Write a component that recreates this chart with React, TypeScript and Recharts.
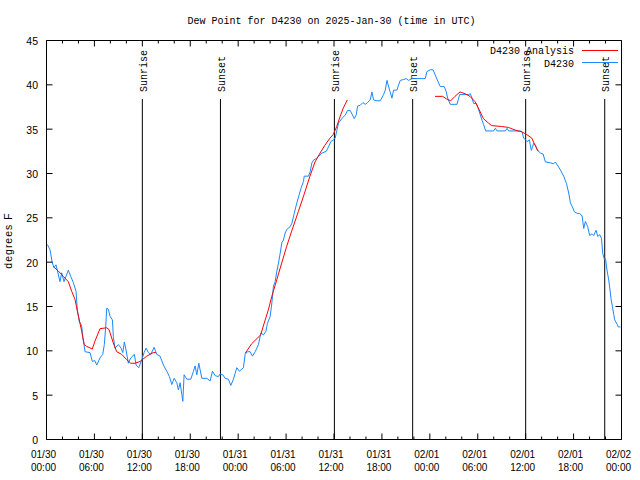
import React from 'react';
import { LineChart, Line, XAxis, YAxis, ReferenceLine, Customized } from 'recharts';

// Observed dew point (hours since 2025-01-30 00:00 UTC, degrees F)
const observed: [number, number][] = [
  [0.1, 22.0], [0.44, 21.4], [0.73, 19.9], [0.94, 19.4], [1.19, 19.7], [1.35, 19.1], [1.69, 17.8], [1.9, 18.8],
  [2.19, 17.8], [2.44, 18.4], [2.73, 19.1], [3.03, 18.4], [3.36, 17.7], [3.7, 16.7], [3.86, 14.6], [4.11, 13.3],
  [4.41, 12.8], [4.54, 11.5], [4.7, 10.7], [4.82, 9.9], [5.45, 9.8], [5.74, 8.8], [6.04, 8.9], [6.29, 8.4],
  [6.7, 9.2], [7.04, 9.6], [7.24, 10.7], [7.42, 12.8], [7.54, 14.8], [7.74, 14.7], [7.96, 13.9], [8.25, 13.5],
  [8.37, 11.6], [8.58, 10.3], [9.0, 10.7], [9.34, 10.3], [9.55, 9.8], [9.75, 11.0], [9.96, 10.1], [10.25, 8.6],
  [10.55, 9.2], [11.0, 9.6], [11.22, 8.4], [11.55, 8.1], [11.93, 9.0], [12.22, 9.8], [12.47, 10.3], [12.76, 9.8],
  [13.06, 9.6], [13.47, 10.4], [13.81, 9.6], [14.22, 9.4], [14.64, 8.4], [15.06, 7.7], [15.39, 7.1], [15.69, 6.2],
  [15.98, 6.9], [16.32, 6.4], [16.52, 5.6], [16.73, 6.4], [16.94, 5.1], [17.07, 4.3], [17.23, 7.3], [17.57, 6.8],
  [18.07, 6.8], [18.4, 7.7], [18.61, 8.3], [18.82, 7.3], [19.07, 8.6], [19.45, 6.9], [20.08, 6.9], [20.49, 6.6],
  [20.78, 7.7], [21.12, 7.2], [21.53, 7.1], [21.74, 7.4], [22.08, 7.3], [22.37, 6.9], [22.78, 6.8], [23.08, 6.1],
  [23.41, 6.8], [23.83, 8.1], [24.16, 7.7], [24.66, 8.1], [24.87, 9.6], [25.16, 9.9], [25.5, 9.9], [25.79, 9.4],
  [26.13, 9.9], [26.54, 10.7], [26.84, 12.0], [27.17, 11.8], [27.47, 12.2], [27.67, 13.1], [28.01, 13.9], [28.22, 15.4],
  [28.42, 17.3], [28.63, 17.8], [28.85, 19.0], [29.05, 19.9], [29.26, 21.0], [29.47, 22.2], [29.67, 22.5], [29.89, 23.3],
  [30.1, 23.7], [30.51, 24.0], [30.73, 24.4], [31.02, 25.5], [31.35, 26.7], [31.64, 27.6], [31.89, 28.4], [32.18, 29.1],
  [32.27, 29.7], [32.81, 29.7], [33.02, 30.2], [33.23, 31.2], [33.43, 31.5], [33.77, 31.7], [34.06, 31.9], [34.49, 32.3],
  [35.03, 32.5], [35.31, 33.0], [35.61, 33.6], [35.94, 33.8], [36.15, 34.0], [36.37, 34.9], [36.57, 35.7], [36.99, 36.2],
  [37.41, 36.6], [37.69, 37.1], [38.03, 37.1], [38.32, 36.6], [38.53, 36.2], [38.78, 36.6], [38.95, 37.6], [39.29, 37.7],
  [39.62, 38.0], [39.91, 37.8], [40.2, 38.0], [40.54, 38.3], [40.75, 39.2], [40.95, 38.3], [41.38, 38.2], [41.79, 38.2],
  [42.21, 38.9], [42.42, 39.4], [42.63, 40.5], [42.96, 39.4], [43.26, 38.5], [43.46, 39.4], [43.88, 39.4], [44.09, 40.0],
  [44.3, 40.5], [44.71, 40.6], [45.05, 40.7], [45.34, 40.5], [45.76, 40.7], [46.39, 40.7], [47.43, 40.7], [47.64, 41.5],
  [48.06, 41.7], [48.4, 41.7], [48.68, 41.1], [49.1, 40.2], [49.31, 39.8], [49.81, 39.8], [50.06, 39.2], [50.23, 38.5],
  [50.56, 37.8], [51.4, 37.8], [51.73, 38.9], [52.86, 38.9], [53.07, 39.0], [53.28, 38.5], [53.48, 37.9], [53.82, 37.9],
  [54.11, 37.2], [54.32, 36.6], [54.54, 36.0], [54.74, 35.5], [54.99, 34.8], [55.99, 34.8], [56.2, 35.1], [56.42, 34.8],
  [57.46, 34.8], [57.67, 35.1], [57.87, 34.8], [59.34, 34.8], [59.55, 34.7], [59.75, 34.0], [60.18, 33.6], [60.46, 33.8],
  [60.71, 32.6], [61.0, 33.4], [61.22, 33.2], [61.43, 32.7], [61.84, 32.3], [62.18, 32.2], [62.47, 31.3], [63.09, 31.2],
  [63.51, 31.1], [63.72, 31.3], [63.93, 31.0], [64.35, 30.4], [64.76, 29.7], [65.1, 28.9], [65.39, 27.8], [65.6, 26.7],
  [65.81, 26.3], [66.1, 25.7], [66.44, 25.5], [66.77, 25.5], [67.07, 25.2], [67.27, 23.8], [67.48, 24.6], [67.77, 24.0],
  [68.02, 23.0], [68.32, 23.2], [68.52, 23.0], [68.82, 23.6], [69.02, 22.9], [69.27, 23.1], [69.49, 22.7], [69.65, 21.0],
  [69.86, 20.3], [70.0, 20.4], [70.2, 19.0], [70.4, 18.0], [70.53, 17.1], [70.7, 15.8], [70.86, 15.0], [71.03, 14.1],
  [71.15, 13.5], [71.45, 13.0], [71.58, 12.7], [71.87, 12.7],
];

// Analysis segments (red)
const analysis1: [number, number][] = [
  [0.85, 19.5], [1.48, 19.0], [2.1, 18.4], [2.73, 17.8], [3.16, 16.7], [3.57, 15.8], [3.86, 14.5], [4.41, 12.2],
  [4.73, 10.7], [5.03, 10.5], [5.73, 10.2], [6.07, 11.1], [6.7, 12.5], [7.54, 12.6], [7.83, 12.4], [8.36, 10.9],
  [8.79, 9.9], [9.42, 9.6], [10.04, 9.0], [10.54, 8.6], [11.08, 8.6], [11.71, 8.8], [12.55, 9.4], [13.37, 9.8], [13.71, 9.8],
];
const analysis2: [number, number][] = [
  [24.86, 9.7], [25.69, 10.8], [26.82, 11.8], [27.15, 12.8], [27.77, 14.6], [28.2, 16.1], [28.83, 18.0], [29.45, 19.9],
  [30.08, 21.8], [30.7, 23.5], [31.53, 25.7], [32.24, 27.6], [32.99, 29.7], [33.62, 31.3], [34.25, 32.3], [34.87, 33.2],
  [35.5, 34.0], [35.91, 34.4], [36.34, 35.3], [36.75, 36.4], [37.17, 37.4], [37.67, 38.3],
];
const analysis3: [number, number][] = [
  [48.65, 38.7], [49.61, 38.7], [50.11, 38.4], [50.61, 38.2], [51.15, 38.7], [51.78, 39.2], [52.4, 39.0], [53.03, 38.7],
  [53.66, 38.1], [54.07, 37.4], [54.7, 36.2], [55.32, 35.7], [55.75, 35.4], [57.0, 35.3], [57.83, 35.2], [58.67, 34.9],
  [59.5, 34.7], [60.13, 34.4], [60.76, 34.0], [61.17, 33.2], [61.58, 32.5],
];

const sunEvents: { h: number; label: string }[] = [
  { h: 12.0, label: 'Sunrise' },
  { h: 21.78, label: 'Sunset' },
  { h: 36.05, label: 'Sunrise' },
  { h: 45.85, label: 'Sunset' },
  { h: 60.0, label: 'Sunrise' },
  { h: 69.9, label: 'Sunset' },
];
const sunLineTop = 38.4;

const xMin = 0;
const xMax = 72;
const yMin = 0;
const yMax = 45;
const xTicks = Array.from({ length: 37 }, (_, i) => i * 2);
const tickDates = ['01/30', '01/30', '01/30', '01/30', '01/31', '01/31', '01/31', '01/31', '02/01', '02/01', '02/01', '02/01', '02/02'];
const tickTimes = ['00:00', '06:00', '12:00', '18:00', '00:00', '06:00', '12:00', '18:00', '00:00', '06:00', '12:00', '18:00', '00:00'];
const yTicks = [0, 5, 10, 15, 20, 25, 30, 35, 40, 45];

const title = 'Dew Point for D4230 on 2025-Jan-30 (time in UTC)';
const yLabel = 'degrees F';
const legendNames = ['D4230 Analysis', 'D4230'];

// layout
const CHART_W = 640;
const CHART_H = 480;
const MARGIN = { top: 40.5, right: 18.5, bottom: 0, left: 0 };
const Y_AXIS_W = 46.5;
const X_AXIS_H = 40.5;
const PLOT_L = MARGIN.left + Y_AXIS_W;
const PLOT_T = MARGIN.top;
const PLOT_R = CHART_W - MARGIN.right;
const PLOT_B = CHART_H - MARGIN.bottom - X_AXIS_H;

const RED = '#ff0000';
const BLUE = '#1a88ff';
const MONO = '"Liberation Mono", "DejaVu Sans Mono", monospace';
const SANS = '"Liberation Sans", Arial, sans-serif';

const toRows = (arr: [number, number][]) => arr.map(([h, v]) => ({ h, v }));

const BottomTick = (props: any) => {
  const { x, y, payload } = props;
  const v = payload.value;
  const major = v % 6 === 0;
  const idx = v / 6;
  return (
    <g>
      <line x1={x} x2={x} y1={y} y2={y - (major ? 6 : 3)} stroke="#000" />
      {major && (
        <text x={x - 3} y={y + 18} textAnchor="middle" fontFamily={SANS} fontSize={10} fill="#000">
          {tickDates[idx]}
        </text>
      )}
      {major && (
        <text x={x - 3} y={y + 31.5} textAnchor="middle" fontFamily={SANS} fontSize={10} fill="#000">
          {tickTimes[idx]}
        </text>
      )}
    </g>
  );
};

const LeftTick = (props: any) => {
  const { x, y, payload } = props;
  return (
    <g>
      <line x1={x} x2={x + 6} y1={y} y2={y} stroke="#000" />
      <text x={x - 8.5} y={y + 4.5} textAnchor="end" fontFamily={SANS} fontSize={10.5} fill="#000">
        {payload.value}
      </text>
    </g>
  );
};

const SunLabel = (props: any) => {
  const { viewBox, text } = props;
  if (!viewBox) return null;
  const x = viewBox.x + 4.5;
  const y = viewBox.y - 7;
  return (
    <text x={x} y={y} transform={`rotate(-90 ${x} ${y})`} fontFamily={MONO} fontSize={10} fill="#000">
      {text}
    </text>
  );
};

const Overlay = () => {
  const sx = (h: number) => PLOT_L + ((h - xMin) / (xMax - xMin)) * (PLOT_R - PLOT_L);
  const sy = (v: number) => PLOT_B - ((v - yMin) / (yMax - yMin)) * (PLOT_B - PLOT_T);
  return (
    <g>
      {/* top and right frame with mirrored ticks */}
      <line x1={PLOT_L} x2={PLOT_R} y1={PLOT_T} y2={PLOT_T} stroke="#000" />
      <line x1={PLOT_R} x2={PLOT_R} y1={PLOT_T} y2={PLOT_B} stroke="#000" />
      {xTicks.map((t) => (
        <line key={`tt${t}`} x1={sx(t)} x2={sx(t)} y1={PLOT_T} y2={PLOT_T + (t % 6 === 0 ? 6 : 3)} stroke="#000" />
      ))}
      {yTicks.map((t) => (
        <line key={`rt${t}`} x1={PLOT_R} x2={PLOT_R - 6} y1={sy(t)} y2={sy(t)} stroke="#000" />
      ))}
      <text x={331.5} y={24} textAnchor="middle" fontFamily={MONO} fontSize={10} fill="#000">
        {title}
      </text>
      <text x={12} y={240.5} transform="rotate(-90 12 240.5)" textAnchor="middle" fontFamily={SANS} fontSize={10.5} letterSpacing={1} fill="#000">
        {yLabel}
      </text>
      <text x={574} y={54} textAnchor="end" fontFamily={MONO} fontSize={10} fill="#000">
        {legendNames[0]}
      </text>
      <line x1={582} x2={618} y1={50.5} y2={50.5} stroke={RED} />
      <text x={574} y={66.5} textAnchor="end" fontFamily={MONO} fontSize={10} fill="#000">
        {legendNames[1]}
      </text>
      <line x1={582} x2={618} y1={62.5} y2={62.5} stroke={BLUE} />
    </g>
  );
};

export default function App() {
  return (
    <div style={{ position: 'absolute', left: 0, top: 0, width: CHART_W, height: CHART_H, background: '#fff' }}>
      <LineChart width={CHART_W} height={CHART_H} margin={MARGIN}>
        <XAxis
          xAxisId="b"
          type="number"
          dataKey="h"
          domain={[xMin, xMax]}
          ticks={xTicks}
          interval={0}
          height={X_AXIS_H}
          tickSize={0}
          tickMargin={0}
          tickLine={false}
          axisLine={{ stroke: '#000' }}
          tick={<BottomTick />}
        />
        <YAxis
          yAxisId="l"
          type="number"
          domain={[yMin, yMax]}
          ticks={yTicks}
          interval={0}
          width={Y_AXIS_W}
          tickSize={0}
          tickMargin={0}
          tickLine={false}
          axisLine={{ stroke: '#000' }}
          tick={<LeftTick />}
        />
        {sunEvents.map((e, i) => (
          <ReferenceLine
            key={i}
            xAxisId="b"
            yAxisId="l"
            segment={[{ x: e.h, y: yMin }, { x: e.h, y: sunLineTop }]}
            stroke="#000"
            strokeWidth={1}
            label={<SunLabel text={e.label} />}
          />
        ))}
        <Line xAxisId="b" yAxisId="l" data={toRows(observed)} dataKey="v" type="linear" stroke={BLUE} strokeWidth={1} dot={false} isAnimationActive={false} />
        <Line xAxisId="b" yAxisId="l" data={toRows(analysis1)} dataKey="v" type="linear" stroke={RED} strokeWidth={1} dot={false} isAnimationActive={false} />
        <Line xAxisId="b" yAxisId="l" data={toRows(analysis2)} dataKey="v" type="linear" stroke={RED} strokeWidth={1} dot={false} isAnimationActive={false} />
        <Line xAxisId="b" yAxisId="l" data={toRows(analysis3)} dataKey="v" type="linear" stroke={RED} strokeWidth={1} dot={false} isAnimationActive={false} />
        <Customized component={Overlay} />
      </LineChart>
    </div>
  );
}
